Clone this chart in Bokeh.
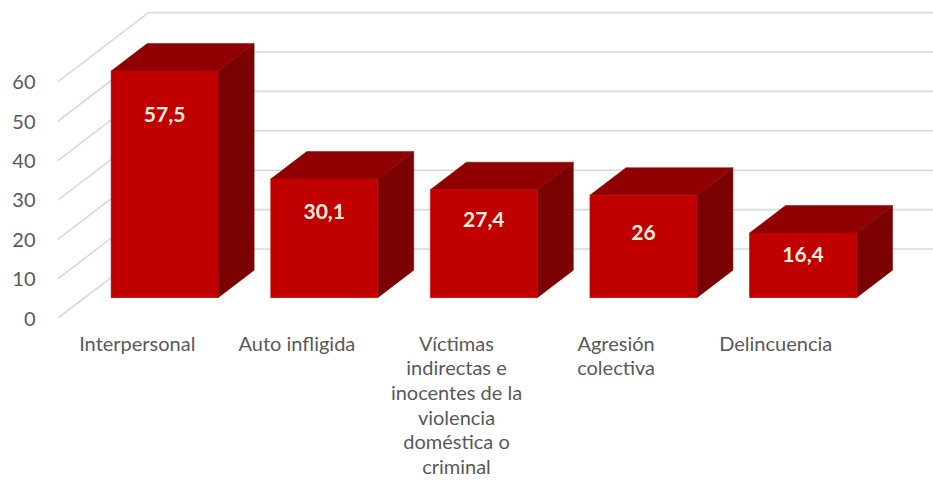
from bokeh.plotting import figure
from bokeh.embed import file_html
from bokeh.resources import INLINE
from bokeh.models import Range1d, FixedTicker
from bokeh.core.properties import value

categories = ["Interpersonal", "Auto infligida",
              "Víctimas\nindirectas e\ninocentes de la\nviolencia\ndoméstica o\ncriminal",
              "Agresión\ncolectiva", "Delincuencia"]
values = [57.5, 30.1, 27.4, 26, 16.4]
value_labels = ["57,5", "30,1", "27,4", "26", "16,4"]
y_ticks = [0, 10, 20, 30, 40, 50, 60]

# layout / style (pixels in the figure)
W, H = 933, 482
LEFT, BOTTOM = 57, 164
CAT_PX, UNIT_PX = 159.6, 3.94
DEPTH_X = 91 / CAT_PX      # full depth in category units
DEPTH_Y = 69.5 / UNIT_PX   # full depth in value units
BAR_W = 107 / CAT_PX
BAR_START, BAR_DEPTH = 0.30, 0.396
LABEL_DROP = [43, 32.6, 30, 37, 21]
FONT = "Lato"

p = figure(width=W, height=H, output_backend="svg", toolbar_location=None,
           frame_width=W - LEFT, frame_height=H - BOTTOM,
           x_range=Range1d(0, (W - LEFT) / CAT_PX),
           y_range=Range1d(0, (H - BOTTOM) / UNIT_PX),
           min_border_left=LEFT, min_border_bottom=BOTTOM,
           min_border_top=0, min_border_right=0)
p.outline_line_color = None
p.grid.visible = False
p.background_fill_color = "white"


def proj(x, v, d):
    return x + d * DEPTH_X, v + d * DEPTH_Y


# gridlines: floor-to-wall slant then along the back wall
gx, gy = [], []
for t in y_ticks:
    x1, y1 = proj(0, t, 1)
    gx.append([0, x1, (W - LEFT) / CAT_PX])
    gy.append([t, y1, y1])
p.multi_line(gx, gy, line_color="#D9D9D9", line_width=1.6)

# bars
fx, fy, tx, ty, sx, sy = [], [], [], [], [], []
for i, v in enumerate(values):
    c = i + 0.5
    xl, xr = c - BAR_W / 2, c + BAR_W / 2
    a = proj(xl, 0, BAR_START)
    b = proj(xr, 0, BAR_START)
    c1 = proj(xr, v, BAR_START)
    d = proj(xl, v, BAR_START)
    e = proj(xl, v, BAR_START + BAR_DEPTH)
    f = proj(xr, v, BAR_START + BAR_DEPTH)
    g = proj(xr, 0, BAR_START + BAR_DEPTH)
    fx.append([a[0], b[0], c1[0], d[0]]); fy.append([a[1], b[1], c1[1], d[1]])
    tx.append([d[0], c1[0], f[0], e[0]]); ty.append([d[1], c1[1], f[1], e[1]])
    sx.append([b[0], g[0], f[0], c1[0]]); sy.append([b[1], g[1], f[1], c1[1]])
p.patches(sx, sy, fill_color="#7B0000", line_color="#7B0000", line_width=0.5)
p.patches(tx, ty, fill_color="#900000", line_color="#900000", line_width=0.5)
p.patches(fx, fy, fill_color="#C00000", line_color="#C00000", line_width=0.5)

# value labels
lx = [proj(i + 0.5, v, BAR_START)[0] for i, v in enumerate(values)]
ly = [proj(0, v - dr / UNIT_PX, BAR_START)[1] for v, dr in zip(values, LABEL_DROP)]
p.text(lx, ly, text=value_labels, text_font=value(FONT), text_font_style="bold",
       text_font_size="21px", text_color="#FBEEDD",
       text_align="center", text_baseline="middle")

# axes
p.yaxis.ticker = FixedTicker(ticks=y_ticks)
p.yaxis.axis_line_color = None
p.yaxis.major_tick_line_color = None
p.yaxis.minor_tick_line_color = None
p.yaxis.major_tick_out = 0
p.yaxis.major_label_standoff = 22
p.yaxis.major_label_text_font = FONT
p.yaxis.major_label_text_font_size = "20px"
p.yaxis.major_label_text_color = "#595959"

p.xaxis.ticker = FixedTicker(ticks=[i + 0.5 for i in range(len(categories))])
p.xaxis.major_label_overrides = {i + 0.5: c for i, c in enumerate(categories)}
p.xaxis.axis_line_color = None
p.xaxis.major_tick_line_color = None
p.xaxis.minor_tick_line_color = None
p.xaxis.major_tick_out = 0
p.xaxis.major_label_standoff = 12
p.xaxis.major_label_text_font = FONT
p.xaxis.major_label_text_font_size = "20px"
p.xaxis.major_label_text_color = "#595959"
p.xaxis.major_label_text_line_height = 1.03
p.xaxis.major_label_orientation = "horizontal"

open("out.html", "w").write(file_html(p, INLINE))
